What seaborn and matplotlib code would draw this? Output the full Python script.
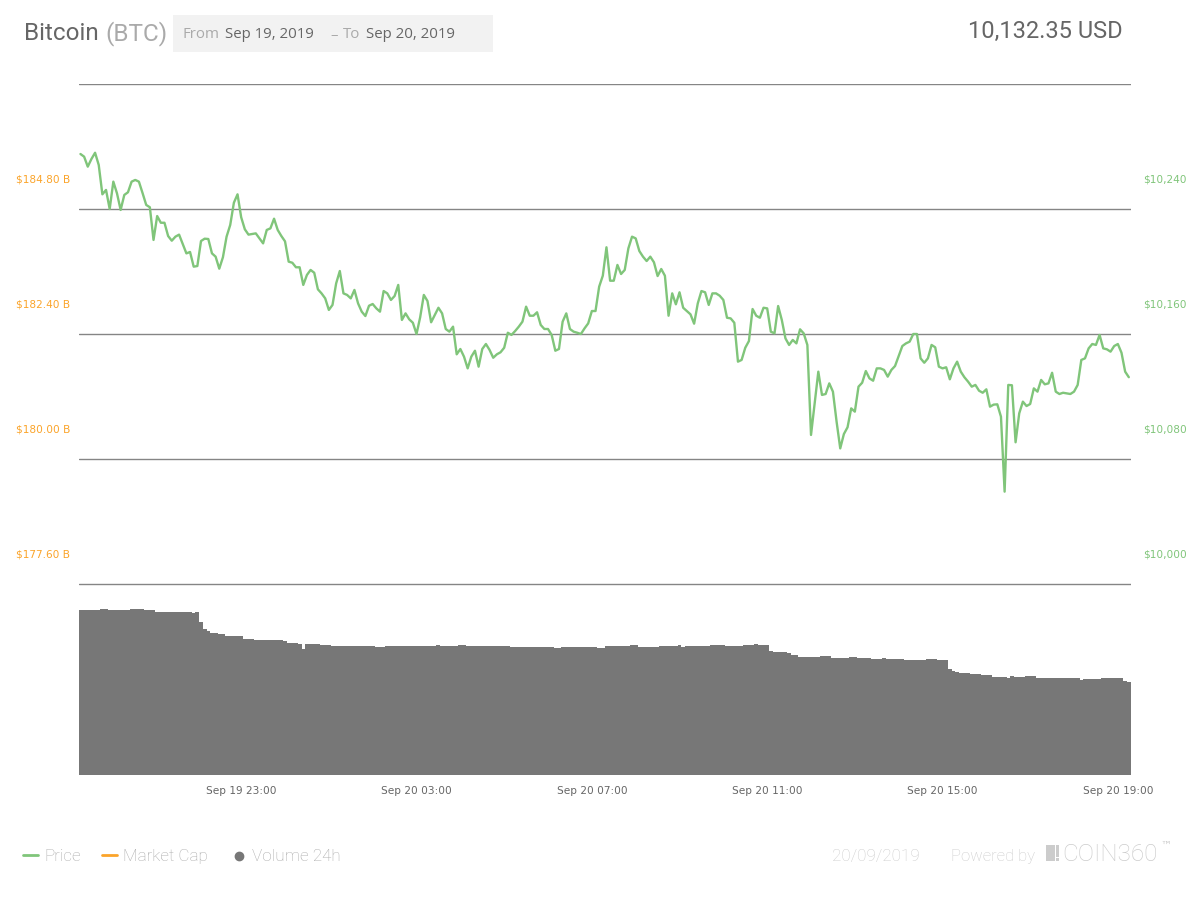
import numpy as np
import pandas as pd
import matplotlib
matplotlib.use("Agg")
import matplotlib.pyplot as plt
import matplotlib.dates as mdates
from matplotlib.transforms import ScaledTranslation
from matplotlib.patches import Rectangle
from matplotlib.lines import Line2D
import seaborn as sns

# ---------------- data ----------------
start_time = "2019-09-19 19:20"
step = "5min"

price_usd = [
    10275.2, 10273.5, 10267.1, 10272.0, 10276.0, 10268.2, 10249.4, 10252.2, 10240.0, 10257.5,
    10250.0, 10239.4, 10249.0, 10250.7, 10257.5, 10258.6, 10257.5, 10250.2, 10242.6, 10241.1,
    10220.2, 10235.5, 10231.2, 10231.2, 10222.7, 10219.7, 10222.3, 10223.6, 10217.6, 10211.6,
    10212.5, 10203.1, 10203.5, 10219.5, 10221.0, 10220.8, 10211.6, 10209.5, 10201.8, 10209.1,
    10222.3, 10229.8, 10244.0, 10249.4, 10234.7, 10227.0, 10223.6, 10224.0, 10224.4, 10221.2,
    10218.0, 10226.6, 10227.6, 10233.8, 10226.6, 10222.7, 10219.3, 10206.3, 10205.6, 10202.7,
    10202.7, 10191.4, 10197.8, 10201.0, 10199.2, 10188.6, 10186.0, 10182.8, 10175.4, 10178.6,
    10192.4, 10200.3, 10186.0, 10185.0, 10182.8, 10188.2, 10179.6, 10174.3, 10171.5, 10178.1,
    10179.2, 10176.4, 10174.3, 10187.5, 10186.0, 10181.8, 10184.3, 10191.4, 10169.0, 10173.2,
    10169.4, 10167.2, 10160.0, 10170.7, 10185.0, 10181.1, 10167.5, 10172.2, 10176.8, 10173.2,
    10163.2, 10161.5, 10164.7, 10147.0, 10150.4, 10145.5, 10138.0, 10145.5, 10149.3, 10139.1,
    10150.4, 10153.6, 10149.8, 10144.8, 10147.0, 10148.3, 10151.2, 10160.8, 10159.4, 10161.9,
    10164.7, 10167.9, 10177.5, 10171.7, 10171.7, 10173.9, 10165.8, 10163.2, 10163.2, 10159.4,
    10149.3, 10150.4, 10167.9, 10173.2, 10163.2, 10161.5, 10160.8, 10160.0, 10163.6, 10166.8,
    10174.7, 10174.7, 10190.3, 10197.3, 10215.5, 10194.1, 10194.1, 10204.2, 10198.4, 10201.0,
    10214.8, 10222.3, 10221.2, 10213.1, 10209.5, 10206.7, 10209.5, 10205.9, 10197.1, 10201.6,
    10197.3, 10171.7, 10186.0, 10179.0, 10186.7, 10176.8, 10174.7, 10172.6, 10166.6, 10179.6,
    10187.5, 10186.7, 10178.6, 10186.0, 10186.0, 10184.5, 10181.8, 10170.4, 10170.0, 10167.2,
    10142.3, 10143.4, 10151.2, 10155.5, 10176.0, 10171.7, 10170.4, 10176.8, 10176.4, 10161.5,
    10160.4, 10177.9, 10169.0, 10157.2, 10153.0, 10156.2, 10154.0, 10163.0, 10160.4, 10153.0,
    10095.4, 10115.6, 10135.9, 10121.0, 10121.6, 10128.4, 10123.1, 10103.9, 10086.8, 10096.0,
    10100.3, 10112.4, 10110.3, 10126.3, 10128.8, 10136.3, 10131.6, 10130.1, 10138.0, 10138.0,
    10137.0, 10132.7, 10137.0, 10139.5, 10145.9, 10152.3, 10154.0, 10155.1, 10160.0, 10160.0,
    10144.4, 10141.6, 10144.4, 10153.0, 10151.5, 10139.1, 10138.0, 10138.7, 10131.0, 10138.0,
    10142.3, 10135.9, 10132.3, 10129.5, 10126.3, 10127.4, 10123.7, 10122.4, 10124.6, 10113.5,
    10114.8, 10115.0, 10107.1, 10059.1, 10127.4, 10127.2, 10090.7, 10109.2, 10116.7, 10113.9,
    10115.2, 10125.2, 10123.1, 10130.6, 10127.8, 10128.4, 10135.2, 10123.1, 10121.6, 10122.4,
    10122.0, 10121.6, 10123.1, 10127.4, 10143.4, 10144.4, 10150.8, 10153.6, 10153.0, 10159.4,
    10150.8, 10150.2, 10148.7, 10152.3, 10153.6, 10148.0, 10135.9, 10132.35,
]

# 24h volume (billion USD), as runs of equal 5-minute values
volume_levels_busd = [
    16.5, 16.6, 16.5, 16.6, 16.5, 16.3, 16.2, 16.3, 15.3, 14.63, 14.4, 14.2, 14.07, 13.93,
    13.6, 13.5, 13.37, 13.2, 13.1, 12.6, 13.15, 13.03, 12.9, 12.8, 12.9, 13.0, 12.9, 13.0,
    12.9, 12.8, 12.7, 12.8, 12.75, 12.93, 13.0, 12.8, 12.9, 13.0, 12.83, 12.9, 13.0, 12.9,
    13.0, 13.1, 13.0, 12.4, 12.3, 12.17, 12.0, 11.8, 11.87, 11.7, 11.8, 11.7, 11.63, 11.7,
    11.6, 11.5, 11.6, 11.5, 10.57, 10.4, 10.3, 10.2, 10.1, 10.0, 9.8, 9.7, 9.9, 9.8, 9.9,
    9.7, 9.5, 9.6, 9.7, 9.4, 9.3,
]
volume_run_lengths = [
    6, 2, 6, 4, 3, 10, 1, 1, 1, 1, 1, 2, 2, 5,
    3, 8, 1, 3, 1, 1, 4, 3, 12, 3, 14, 1, 5, 2,
    12, 12, 2, 10, 2, 7, 2, 6, 5, 1, 1, 7, 4, 5,
    3, 1, 3, 1, 4, 1, 2, 6, 3, 5, 2, 4, 3, 1,
    5, 6, 3, 3, 1, 1, 1, 3, 3, 3, 4, 1, 1, 3, 3,
    12, 1, 5, 6, 1, 1,
]

price_ticks = [10000, 10080, 10160, 10240]
price_tick_labels = ["$10,000", "$10,080", "$10,160", "$10,240"]
mcap_tick_labels = ["$177.60 B", "$180.00 B", "$182.40 B", "$184.80 B"]
grid_levels = [10000, 10080, 10160, 10240, 10320]
x_tick_hours = [23, 3, 7, 11, 15, 19]
view_start = "2019-09-19 19:18"
view_end = "2019-09-20 19:18"
price_range = (9877.76, 10320)
volume_range = (0, 69.1)

coin_name = "Bitcoin"
coin_symbol = "(BTC)"
legend_items = ["Price", "Market Cap", "Volume 24h"]

# ---------------- style ----------------
GREEN = "#80c57a"
ORANGE = "#fba42a"
VOL_GRAY = "#777777"
GRID = "#858585"

sns.set_style("white")
plt.rcParams["font.family"] = ["DejaVu Sans"]

W, H = 1200, 900
fig = plt.figure(figsize=(12, 9), dpi=100)
fig.patch.set_facecolor("white")


def fx(px):
    return px / W


def fy(py):
    return 1 - py / H


times = pd.date_range(start=start_time, periods=len(price_usd), freq=step)
volume = np.repeat(volume_levels_busd, volume_run_lengths)
df = pd.DataFrame({"time": times, "price": price_usd, "volume": volume})

L, R, T, B = 79, 1131, 84, 775
ax_vol = fig.add_axes([fx(L), fy(B), (R - L) / W, (B - T) / H])
ax_p = ax_vol.twinx()

# volume bars
ax_vol.bar(df["time"], df["volume"], width=5.3 / (24 * 60), color=VOL_GRAY,
           linewidth=0, align="center")
ax_vol.set_ylim(*volume_range)

# grid lines + price line
for g in grid_levels:
    ax_p.axhline(g, color=GRID, lw=1.0, zorder=1)
sns.lineplot(data=df, x="time", y="price", ax=ax_p, color=GREEN, linewidth=1.7,
             zorder=3)
ax_p.set_ylim(*price_range)
ax_p.set_xlabel("")
ax_p.set_ylabel("")
ax_vol.set_xlabel("")
ax_vol.set_ylabel("")

for a in (ax_vol, ax_p):
    for s in a.spines.values():
        s.set_visible(False)
    a.set_yticks([])
    a.patch.set_visible(False)

ax_vol.set_xlim(pd.Timestamp(view_start), pd.Timestamp(view_end))
ax_vol.xaxis.set_major_locator(mdates.HourLocator(byhour=x_tick_hours))
ax_vol.xaxis.set_major_formatter(mdates.DateFormatter("%b %d %H:%M"))
ax_vol.tick_params(axis="x", length=0, pad=8, labelsize=7.6, labelcolor="#666666")

# axis labels (sit above their grid line)
right_tr = ax_p.get_yaxis_transform() + ScaledTranslation(0.12, 0.295, fig.dpi_scale_trans)
left_tr = ax_p.get_yaxis_transform() + ScaledTranslation(-0.09, 0.295, fig.dpi_scale_trans)
for v, lab, mlab in zip(price_ticks, price_tick_labels, mcap_tick_labels):
    ax_p.text(1.0, v, lab, transform=right_tr, ha="left", va="center",
              fontsize=7.6, color=GREEN)
    ax_p.text(0.0, v, mlab, transform=left_tr, ha="right", va="center",
              fontsize=7.6, color=ORANGE)

# ---------------- header ----------------
fig.text(fx(24), fy(40), coin_name, fontsize=17.5, color="#666666",
         family="Roboto", va="baseline", ha="left")
fig.text(fx(105), fy(40), coin_symbol, fontsize=17.5, color="#aaaaaa",
         family="Roboto", va="baseline", ha="left")
fig.patches.append(Rectangle((fx(173), fy(52)), (493 - 173) / W, (52 - 15) / H,
                             transform=fig.transFigure, facecolor="#f2f2f2",
                             edgecolor="none"))
first_day = times[0].strftime("%b %d, %Y").replace(" 0", " ")
last_day = times[-1].strftime("%b %d, %Y").replace(" 0", " ")
for xpos, txt, col in [(183, "From", "#aaaaaa"), (225, first_day, "#666666"),
                       (330, "–", "#aaaaaa"), (343, "To", "#aaaaaa"),
                       (366, last_day, "#666666")]:
    fig.text(fx(xpos), fy(38.5), txt, fontsize=10.8, color=col, family="Open Sans",
             va="baseline", ha="left")
fig.text(fx(1123), fy(37.5), f"{price_usd[-1]:,.2f} USD", fontsize=17,
         color="#666666", family="Roboto", va="baseline", ha="right")

# ---------------- legend / footer ----------------
LEG_Y = 861
fig.add_artist(Line2D([fx(23), fx(38)], [fy(855), fy(855)], color=GREEN, lw=2,
                      transform=fig.transFigure))
fig.add_artist(Line2D([fx(102), fx(117)], [fy(855), fy(855)], color=ORANGE, lw=2,
                      transform=fig.transFigure))
fig.add_artist(Line2D([fx(239)], [fy(856)], color=VOL_GRAY, marker="o",
                      markersize=6, linestyle="none", transform=fig.transFigure))
for xpos, txt in zip([44, 123, 252], legend_items):
    fig.text(fx(xpos), fy(LEG_Y), txt, fontsize=12.3, color="#aaaaaa",
             family="Roboto", fontweight="light", va="baseline", ha="left")

fig.text(fx(832), fy(LEG_Y), times[-1].strftime("%d/%m/%Y"), fontsize=12.3,
         color="#cccccc", family="Roboto", fontweight="light", va="baseline")
fig.text(fx(951), fy(LEG_Y), "Powered by", fontsize=12.0, color="#cccccc",
         family="Roboto", fontweight="light", va="baseline")
fig.patches.append(Rectangle((fx(1046), fy(861)), 9 / W, 16 / H,
                             transform=fig.transFigure, facecolor="#cccccc",
                             edgecolor="none"))
fig.patches.append(Rectangle((fx(1056), fy(857)), 3 / W, 12 / H,
                             transform=fig.transFigure, facecolor="#cccccc",
                             edgecolor="none"))
fig.patches.append(Rectangle((fx(1056), fy(861)), 3 / W, 3 / H,
                             transform=fig.transFigure, facecolor="#cccccc",
                             edgecolor="none"))
fig.text(fx(1062), fy(LEG_Y), "COIN360", fontsize=17.5, color="#cccccc",
         family="Roboto", fontweight="light", va="baseline")
fig.text(fx(1160), fy(846), "™", fontsize=8, color="#cccccc",
         family="DejaVu Sans", va="center")

fig.savefig("out.png", dpi=100, facecolor="white")
